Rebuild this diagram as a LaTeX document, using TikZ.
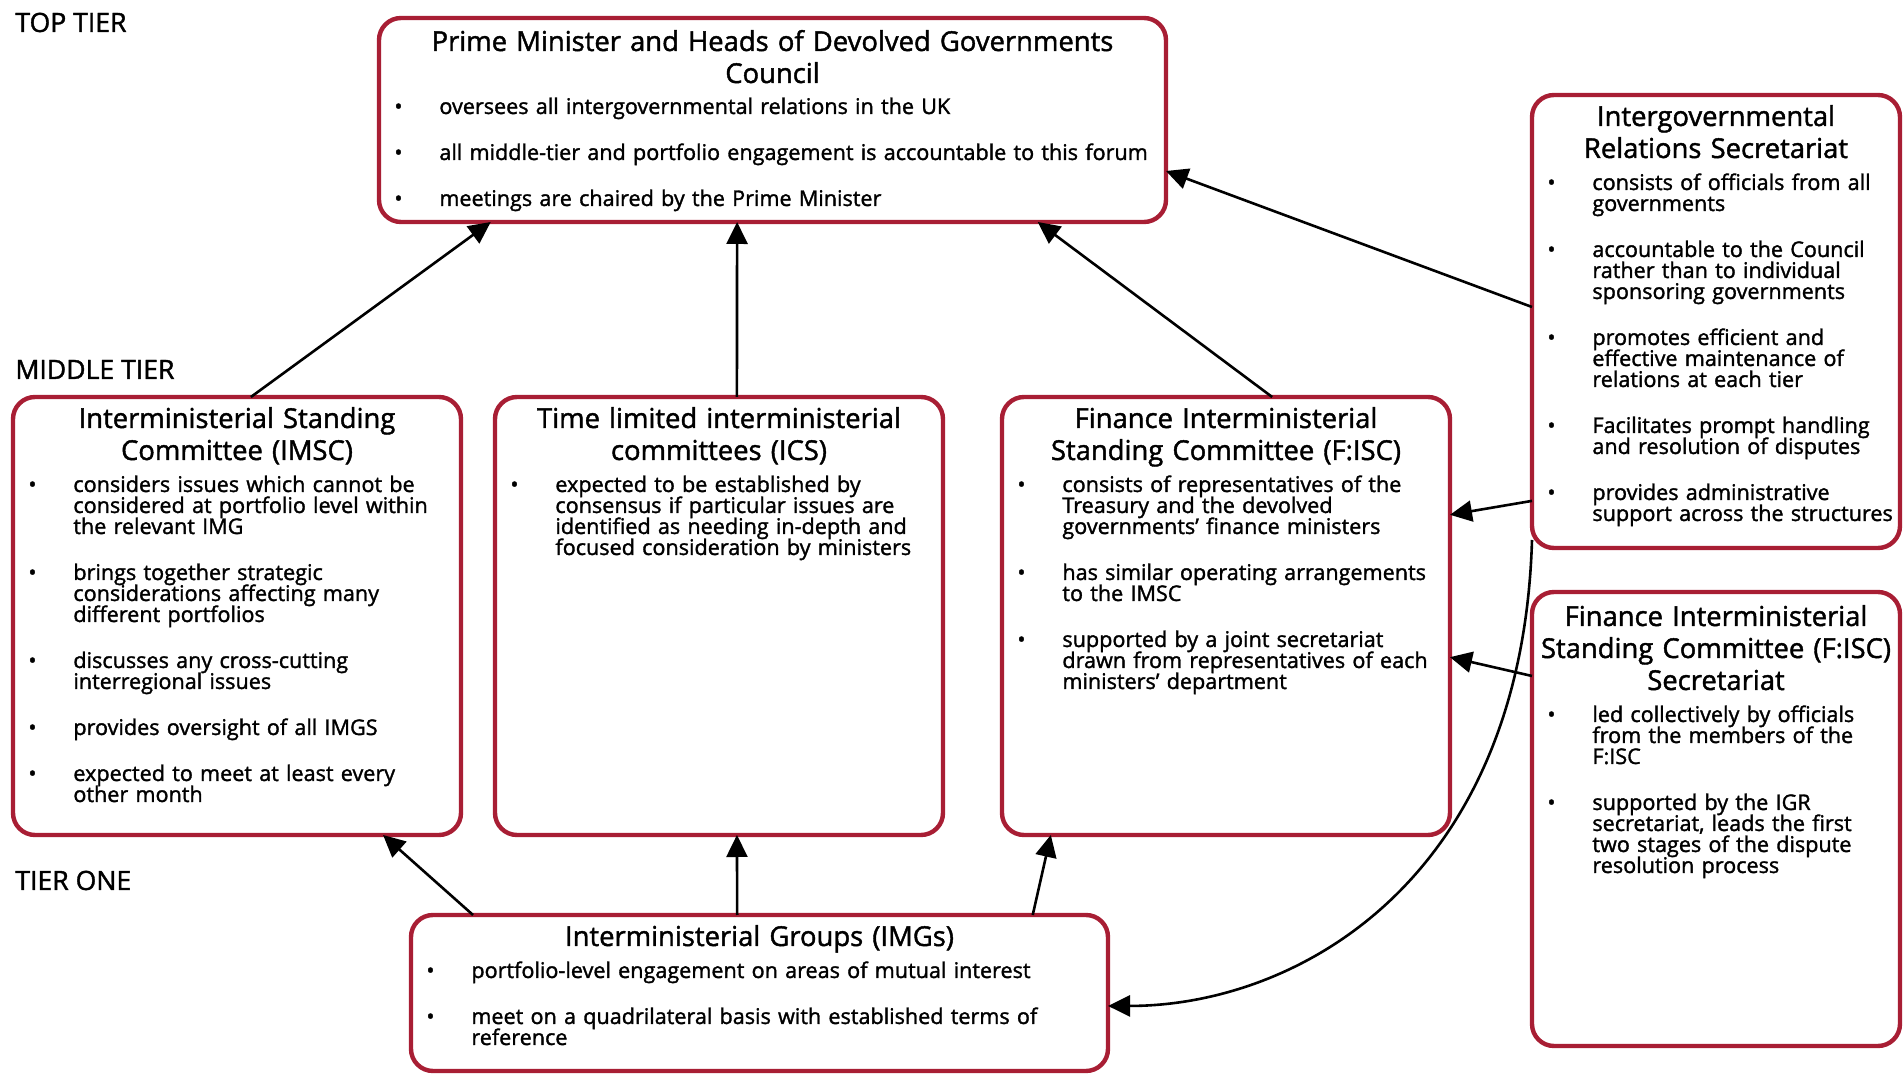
\documentclass[tikz,border=0pt]{standalone}
\usepackage{fontspec}
\setmainfont{Open Sans}[FakeBold=1.5]
\usetikzlibrary{arrows.meta,calc}
\definecolor{boxred}{RGB}{168,30,52}
\newcommand\bitem[1]{\lineskiplimit=-20pt\hangindent=22.5pt\hangafter=1\relax\makebox[22.5pt][l]{\textbullet}#1\par\vspace{12.5pt}}
\newcommand\mkbox[5]{\node[igrbox, minimum width=#4*0.5pt, minimum height=#5*0.5pt, anchor=north west] (#1) at (#2,#3) {};}
\begin{document}
\begin{tikzpicture}[x=0.5pt,y=-0.5pt,
  igrbox/.style={draw=boxred, line width=2.2pt, rounded corners=11pt, fill=white, inner sep=0pt, outer sep=0pt},
  ttl/.style={font=\fontsize{13.7}{16}\selectfont, align=center, inner sep=0pt, anchor=base},
  bdy/.style={font=\fontsize{10.8}{10.5}\selectfont, align=left, text width=500pt, inner sep=0pt, anchor=base west},
  tier/.style={font=\fontsize{13.3}{16}\selectfont, inner sep=0pt, anchor=base west},
  arr/.style={line width=1.3pt, -{Triangle[length=11pt,width=10.5pt]}}]
\useasboundingbox (0,0) rectangle (1903,1074);

% tier labels
\node[tier] (toptier) at (15,32) {TOP TIER};
\node[tier] (midtier) at (15,379) {MIDDLE TIER};
\node[tier] (tierone) at (15,890) {TIER ONE};

% boxes
\mkbox{council}{379}{18}{787}{204}
\mkbox{igr}{1532}{95}{368}{453}
\mkbox{imsc}{13}{397}{448}{438}
\mkbox{ics}{495}{397}{448}{438}
\mkbox{fisc}{1002}{397}{448}{438}
\mkbox{fiscs}{1532}{592}{368}{454}
\mkbox{img}{411}{915}{697}{156}

% council
\node[ttl, text width=393pt] (council-t) at ($(council.north)+(0,33)$) {Prime Minister and Heads of Devolved Governments\\Council};
\node[bdy] (council-b) at ($(council.north west)+(15,96)$) {%
\bitem{oversees all intergovernmental relations in the UK}
\bitem{all middle-tier and portfolio engagement is accountable to this forum}
\bitem{meetings are chaired by the Prime Minister}};

% IGR secretariat
\node[ttl, text width=184pt] (igr-t) at ($(igr.north)+(0,31)$) {Intergovernmental\\Relations Secretariat};
\node[bdy] (igr-b) at ($(igr.north west)+(15,95)$) {%
\bitem{consists of officials from all\newline governments}
\bitem{accountable to the Council\newline rather than to individual\newline sponsoring governments}
\bitem{promotes efficient and\newline effective maintenance of\newline relations at each tier}
\bitem{Facilitates prompt handling\newline and resolution of disputes}
\bitem{provides administrative\newline support across the structures}};

% IMSC
\node[ttl, text width=224pt] (imsc-t) at ($(imsc.north)+(0,31)$) {Interministerial Standing\\Committee (IMSC)};
\node[bdy] (imsc-b) at ($(imsc.north west)+(15,95)$) {%
\bitem{considers issues which cannot be\newline considered at portfolio level within\newline the relevant IMG}
\bitem{brings together strategic\newline considerations affecting many\newline different portfolios}
\bitem{discusses any cross-cutting\newline interregional issues}
\bitem{provides oversight of all IMGS}
\bitem{expected to meet at least every\newline other month}};

% ICS
\node[ttl, text width=224pt] (ics-t) at ($(ics.north)+(0,31)$) {Time limited interministerial\\committees (ICS)};
\node[bdy] (ics-b) at ($(ics.north west)+(15,95)$) {%
\bitem{expected to be established by\newline consensus if particular issues are\newline identified as needing in-depth and\newline focused consideration by ministers}};

% FISC
\node[ttl, text width=224pt] (fisc-t) at ($(fisc.north)+(0,31)$) {Finance Interministerial\\Standing Committee (F:ISC)};
\node[bdy] (fisc-b) at ($(fisc.north west)+(15,95)$) {%
\bitem{consists of representatives of the\newline Treasury and the devolved\newline governments’ finance ministers}
\bitem{has similar operating arrangements\newline to the IMSC}
\bitem{supported by a joint secretariat\newline drawn from representatives of each\newline ministers’ department}};

% FISC secretariat
\node[ttl, text width=184pt] (fiscs-t) at ($(fiscs.north)+(0,34)$) {Finance Interministerial\\Standing Committee (F:ISC)\\Secretariat};
\node[bdy] (fiscs-b) at ($(fiscs.north west)+(15,130)$) {%
\bitem{led collectively by officials\newline from the members of the\newline F:ISC}
\bitem{supported by the IGR\newline secretariat, leads the first\newline two stages of the dispute\newline resolution process}};

% IMG
\node[ttl, text width=348.5pt] (img-t) at ($(img.north)+(0,31)$) {Interministerial Groups (IMGs)};
\node[bdy] (img-b) at ($(img.north west)+(15,63)$) {%
\bitem{portfolio-level engagement on areas of mutual interest}
\bitem{meet on a quadrilateral basis with established terms of\newline reference}};

% connectors
\draw[arr] ($(imsc.north west)!0.531!(imsc.north east)$) -- ($(council.south west)!0.142!(council.south east)$);
\draw[arr] ($(ics.north west)!0.540!(ics.north east)$) -- ($(council.south west)!0.455!(council.south east)$);
\draw[arr] ($(fisc.north west)!0.603!(fisc.north east)$) -- ($(council.south west)!0.837!(council.south east)$);
\draw[arr] ($(igr.north west)!0.468!(igr.south west)$) -- ($(council.north east)!0.75!(council.south east)$);
\draw[arr] ($(igr.north west)!0.896!(igr.south west)$) -- ($(fisc.north east)!0.269!(fisc.south east)$);
\draw[arr] ($(fiscs.north west)!0.185!(fiscs.south west)$) -- ($(fisc.north east)!0.594!(fisc.south east)$);
\draw[arr] ($(img.north west)!0.089!(img.north east)$) -- ($(imsc.south west)!0.826!(imsc.south east)$);
\draw[arr] ($(img.north west)!0.468!(img.north east)$) -- ($(ics.south west)!0.540!(ics.south east)$);
\draw[arr] ($(img.north west)!0.892!(img.north east)$) -- ($(fisc.south west)!0.109!(fisc.south east)$);
\coordinate (cs) at ($(igr.south west)+(0,-8)$);
\coordinate (ce) at ($(img.north east)!0.583!(img.south east)$);
\draw[arr] (cs) .. controls ($(cs)+(-10,340)$) and ($(ce)+(190,0)$) .. (ce);
\end{tikzpicture}
\end{document}
